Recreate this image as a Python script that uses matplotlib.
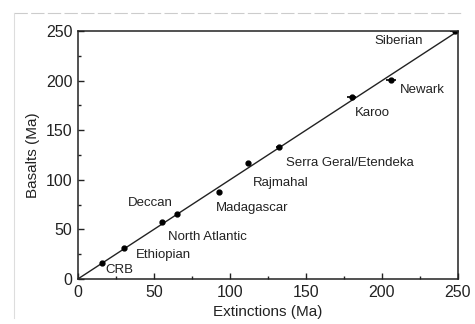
import matplotlib.pyplot as plt
from matplotlib.lines import Line2D
from matplotlib.ticker import MultipleLocator

plt.rcParams['font.family'] = ['Liberation Sans', 'DejaVu Sans']

# ages in Ma: extinction (x) vs flood basalt (y)
names = ['CRB', 'Ethiopian', 'North Atlantic', 'Deccan', 'Madagascar',
         'Rajmahal', 'Serra Geral/Etendeka', 'Karoo', 'Newark', 'Siberian']
extinctions = [16, 30, 55, 65, 93, 112, 132, 180, 206, 248]
basalts = [16, 31, 57, 66, 88, 117, 133, 184, 201, 250]
x_err = [0, 0, 0, 0, 0, 0, 1.5, 3, 3, 3]

# where each label sits (data coords)
label_x = [18, 38, 59, 33, 91, 115, 137, 182, 212, 195]
label_y = [9, 24, 42, 77, 72, 97, 117, 167, 191, 240]

fig = plt.figure(figsize=(4.75, 3.24), dpi=100)
ax = fig.add_axes([0.164, 0.139, 0.80, 0.765])

ax.plot([0, 250], [0, 250], color='#222222', linewidth=1.0)
ax.errorbar(extinctions, basalts, xerr=x_err, fmt='o', color='black',
            markersize=3.5, elinewidth=1.2, capsize=0)

for name, lx, ly in zip(names, label_x, label_y):
    ax.text(lx, ly, name, fontsize=9.5, va='center', ha='left', color='#222222')

ax.set_xlim(0, 250)
ax.set_ylim(0, 250)
ax.xaxis.set_major_locator(MultipleLocator(50))
ax.yaxis.set_major_locator(MultipleLocator(50))
ax.xaxis.set_minor_locator(MultipleLocator(25))
ax.yaxis.set_minor_locator(MultipleLocator(25))
ax.tick_params(which='both', direction='in', top=False, right=False,
               labelsize=11.5, colors='#222222', pad=4)
ax.tick_params(which='major', length=4, width=1)
ax.tick_params(which='minor', length=2.5, width=1)
for s in ax.spines.values():
    s.set_linewidth(1.1)
    s.set_color('#222222')

ax.set_xlabel('Extinctions (Ma)', fontsize=11, color='#222222', labelpad=4)
ax.set_ylabel('Basalts (Ma)', fontsize=11, color='#222222', labelpad=4)

# faint scan border
fig.add_artist(Line2D([0.03, 0.97], [0.96, 0.96], color='#cccccc', lw=0.8,
                      linestyle=(0, (12, 3)), transform=fig.transFigure))
fig.add_artist(Line2D([0.03, 0.03], [0.02, 0.96], color='#dddddd', lw=0.8,
                      transform=fig.transFigure))

fig.savefig('out.png', dpi=100)
